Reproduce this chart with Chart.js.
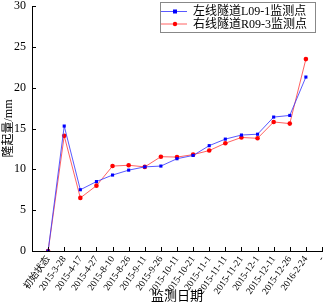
<!DOCTYPE html>
<html>
<head>
<meta charset="utf-8">
<script src="https://cdn.jsdelivr.net/npm/chart.js@4"></script>
<style>
  html, body { margin: 0; padding: 0; background: #fff; }
  #wrap { width: 328px; height: 306px; }
</style>
</head>
<body>
<div id="wrap"><canvas id="chart"></canvas></div>
<script>
const dates = ['初始状态', '2015-3-28', '2015-4-17', '2015-4-27', '2015-8-10', '2015-8-26',
    '2015-9-11', '2015-9-26', '2015-10-11', '2015-10-21', '2015-11-1', '2015-11-11',
    '2015-11-21', '2015-12-1', '2015-12-11', '2015-12-26', '2016-2-24', '-'];
const leftTunnel = [0, 15.3, 7.5, 8.5, 9.3, 9.9, 10.3, 10.4, 11.3, 11.7, 12.9, 13.7, 14.2, 14.3, 16.4, 16.6, 21.3];
const rightTunnel = [0, 14.1, 6.5, 8.0, 10.4, 10.5, 10.3, 11.55, 11.5, 11.8, 12.3, 13.2, 13.9, 13.8, 15.8, 15.6, 23.5];
const yTicks = [0, 5, 10, 15, 20, 25, 30];
const seriesNames = ['左线隧道L09-1监测点', '右线隧道R09-3监测点'];

const serif = "'Liberation Serif', 'Noto Sans CJK SC', serif";

const toPoints = (vals) => vals.map((v, i) => ({ x: i + 1, y: v }));

// inward tick marks, the original plot draws them inside the axes
const innerTicks = {
    id: 'innerTicks',
    afterDraw(chart) {
        const ctx = chart.ctx;
        const area = chart.chartArea;
        const xs = chart.scales.x;
        const ys = chart.scales.y;
        ctx.save();
        ctx.strokeStyle = '#000';
        ctx.lineWidth = 1;
        ctx.beginPath();
        xs.ticks.forEach((t, i) => {
            const px = Math.round(xs.getPixelForTick(i)) + 0.5;
            ctx.moveTo(px, area.bottom);
            ctx.lineTo(px, area.bottom - 4);
        });
        ys.ticks.forEach((t, i) => {
            const py = Math.round(ys.getPixelForTick(i)) + 0.5;
            ctx.moveTo(area.left, py);
            ctx.lineTo(area.left + 4, py);
        });
        ctx.stroke();
        ctx.restore();
    }
};

// boxed legend sitting inside the plot, top right
const boxLegend = {
    id: 'boxLegend',
    afterDraw(chart) {
        const ctx = chart.ctx;
        const left = 160, top = 2, w = 155, h = 30;
        ctx.save();
        ctx.fillStyle = '#fff';
        ctx.fillRect(left, top, w, h);
        ctx.strokeStyle = '#888';
        ctx.lineWidth = 1;
        ctx.strokeRect(left + 0.5, top + 0.5, w, h);
        ctx.font = '12px ' + serif;
        ctx.textBaseline = 'middle';
        chart.data.datasets.forEach((ds, i) => {
            const y = 11.5 + i * 12.5;
            ctx.strokeStyle = ds.borderColor;
            ctx.lineWidth = 1;
            ctx.beginPath();
            ctx.moveTo(left + 1, y);
            ctx.lineTo(left + 27, y);
            ctx.stroke();
            ctx.fillStyle = ds.pointBackgroundColor;
            if (ds.pointStyle === 'rect') {
                ctx.fillRect(left + 13, y - 2, 4, 4);
            } else {
                ctx.beginPath();
                ctx.arc(left + 15, y, 2.2, 0, Math.PI * 2);
                ctx.fill();
            }
            ctx.fillStyle = '#000';
            ctx.fillText(ds.label, left + 33, y + 0.5);
        });
        ctx.restore();
    }
};

new Chart(
    document.getElementById('chart'),
    {
        type: 'line',
        data: {
            datasets: [
                {
                    label: seriesNames[0],
                    data: toPoints(leftTunnel),
                    borderColor: 'rgba(60, 60, 255, 0.85)',
                    borderWidth: 1,
                    pointStyle: 'rect',
                    pointRadius: 2.2,
                    pointBorderWidth: 0,
                    pointBackgroundColor: '#0000ff',
                    pointBorderColor: '#0000ff'
                },
                {
                    label: seriesNames[1],
                    data: toPoints(rightTunnel),
                    borderColor: 'rgba(255, 70, 70, 0.85)',
                    borderWidth: 1,
                    pointStyle: 'circle',
                    pointRadius: 2.3,
                    pointBorderWidth: 0,
                    pointBackgroundColor: '#ff0000',
                    pointBorderColor: '#ff0000'
                }
            ]
        },
        options: {
            responsive: true,
            maintainAspectRatio: false,
            animation: false,
            layout: {
                padding: { top: 6, right: 6, left: 0, bottom: 0 }
            },
            plugins: {
                legend: { display: false },
                tooltip: { enabled: false }
            },
            scales: {
                x: {
                    type: 'linear',
                    min: 0,
                    max: dates.length,
                    afterBuildTicks: (scale) => {
                        scale.ticks = dates.map((d, i) => ({ value: i + 1 }));
                    },
                    afterFit: (scale) => {
                        scale.height = 55;
                        scale.paddingLeft = 0;
                        scale.paddingRight = 0;
                    },
                    grid: { display: false, drawTicks: false },
                    border: { display: true, color: '#000', width: 1 },
                    ticks: {
                        autoSkip: false,
                        minRotation: 55,
                        maxRotation: 55,
                        padding: 3,
                        color: '#000',
                        font: { family: serif, size: 9.5 },
                        callback: (value) => dates[value - 1]
                    },
                    title: {
                        display: true,
                        text: '监测日期',
                        color: '#000',
                        padding: { top: 0, bottom: 2 },
                        font: { family: serif, size: 13 }
                    }
                },
                y: {
                    min: 0,
                    max: 30,
                    afterBuildTicks: (scale) => {
                        scale.ticks = yTicks.map(v => ({ value: v }));
                    },
                    afterFit: (scale) => {
                        scale.width = 32;
                        scale.paddingTop = 0;
                        scale.paddingBottom = 0;
                    },
                    grid: { display: false, drawTicks: false },
                    border: { display: true, color: '#000', width: 1 },
                    ticks: {
                        padding: 6,
                        color: '#000',
                        font: { family: serif, size: 12 }
                    },
                    title: {
                        display: true,
                        text: '隆起量/mm',
                        color: '#000',
                        padding: { top: 2, bottom: 0 },
                        font: { family: serif, size: 12 }
                    }
                }
            }
        },
        plugins: [innerTicks, boxLegend]
    }
);
</script>
</body>
</html>
